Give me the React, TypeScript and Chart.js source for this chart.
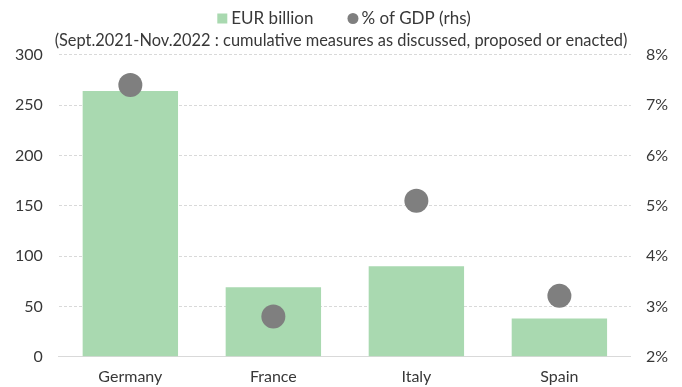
import React, { useEffect, useRef } from "react";
import { Chart, registerables } from "chart.js";

Chart.register(...registerables);

const categories = ["Germany", "France", "Italy", "Spain"];
const eurBillion = [264, 69, 90, 38];
const pctGdp = [7.4, 2.8, 5.1, 3.21];
const leftTicks = [0, 50, 100, 150, 200, 250, 300];
const rightTicks = [2, 3, 4, 5, 6, 7, 8];
const subtitleText = "(Sept.2021-Nov.2022 : cumulative measures as discussed, proposed or enacted)";

const FONT = "Lato, sans-serif";
const TEXT = "#383838";
const BAR_COLOR = "#a9d9b0";
const DOT_COLOR = "#7f7f7f";

const customLegend = {
  id: "customLegend",
  afterDraw(chart: any) {
    const ctx = chart.ctx as CanvasRenderingContext2D;
    const dsets = chart.data.datasets;
    const items = [dsets[0], dsets[1]].map((ds: any) => ({
      label: ds.label as string,
      color: ds.backgroundColor as string,
      kind: ds.type === "bar" ? "rect" : "circle",
    }));
    ctx.save();
    ctx.font = `17px ${FONT}`;
    ctx.textBaseline = "middle";
    ctx.textAlign = "left";
    const marker = 10;
    const gapText = 4;
    const gapItems = 34;
    const widths = items.map((it) => marker + gapText + ctx.measureText(it.label).width);
    const total = widths.reduce((a, b) => a + b, 0) + gapItems * (items.length - 1);
    let x = (chart.width - total) / 2 + 3;
    const y = 18.5;
    items.forEach((it, i) => {
      ctx.fillStyle = it.color;
      if (it.kind === "rect") {
        ctx.fillRect(x, y - marker / 2, marker, marker);
      } else {
        ctx.beginPath();
        ctx.arc(x + marker / 2 + 0.5, y, 5.5, 0, Math.PI * 2);
        ctx.fill();
      }
      ctx.fillStyle = TEXT;
      ctx.fillText(it.label, x + marker + gapText, y);
      x += widths[i] + gapItems;
    });
    ctx.restore();
  },
};

export default function App() {
  const ref = useRef<HTMLCanvasElement | null>(null);
  useEffect(() => {
    document.body.style.margin = "0";
    const ctx = ref.current!.getContext("2d")!;
    const chart = new Chart(ctx, {
      data: {
        labels: categories,
        datasets: [
          {
            type: "bar" as const,
            label: "EUR billion",
            data: eurBillion,
            yAxisID: "y",
            backgroundColor: BAR_COLOR,
            borderWidth: 0,
            barPercentage: 0.667,
            categoryPercentage: 1,
            order: 1,
          },
          {
            type: "scatter" as const,
            label: "% of GDP (rhs)",
            data: pctGdp.map((v, i) => ({ x: categories[i], y: v })) as any,
            yAxisID: "y1",
            xAxisID: "x",
            backgroundColor: DOT_COLOR,
            borderColor: DOT_COLOR,
            borderWidth: 0,
            pointRadius: 12,
            pointHoverRadius: 12,
            order: 0,
          },
        ],
      },
      options: {
        animation: false,
        responsive: true,
        maintainAspectRatio: false,
        layout: { autoPadding: false, padding: { left: -1, right: -1, top: 31, bottom: -9 } },
        plugins: {
          tooltip: { enabled: false },
          legend: { display: false },
          subtitle: {
            display: true,
            text: subtitleText,
            color: TEXT,
            font: { family: FONT, size: 16.4 },
            padding: { top: 0, bottom: 4 },
          },
        },
        scales: {
          x: {
            type: "category",
            offset: true,
            grid: { display: false, drawTicks: false },
            border: { display: true, color: "#d9d9d9" },
            ticks: { color: TEXT, font: { family: FONT, size: 16 }, padding: 10 },
          },
          y: {
            position: "left",
            min: 0,
            max: 300,
            afterBuildTicks: (s: any) => {
              s.ticks = leftTicks.map((v) => ({ value: v }));
            },
            grid: { color: "#d9d9d9", drawTicks: false },
            border: { display: false, dash: [3, 2] },
            ticks: { color: TEXT, font: { family: FONT, size: 16 }, padding: 16 },
          },
          y1: {
            position: "right",
            min: 2,
            max: 8,
            afterBuildTicks: (s: any) => {
              s.ticks = rightTicks.map((v) => ({ value: v }));
            },
            grid: { display: false, drawTicks: false },
            border: { display: false },
            ticks: {
              color: TEXT,
              font: { family: FONT, size: 16 },
              padding: 15,
              callback: (v: any) => `${v}%`,
            },
          },
        },
      } as any,
      plugins: [customLegend],
    });
    return () => chart.destroy();
  }, []);
  return (
    <div style={{ position: "relative", width: 682, height: 387 }}>
      <canvas ref={ref} />
    </div>
  );
}
